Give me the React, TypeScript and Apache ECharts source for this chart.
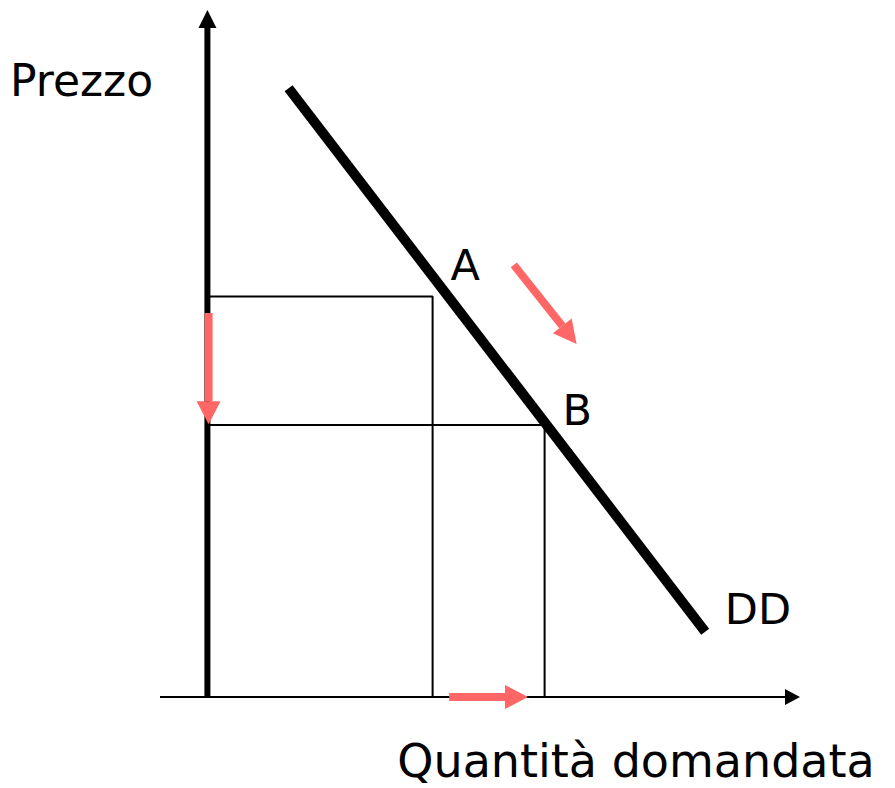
import React, { useEffect, useRef } from "react";
import * as echarts from "echarts";

// Data coordinates (abstract units: x 0..100 quantity, y 0..100 price)
const demandCurve: number[][] = [
  [13.7, 88.6],
  [84.0, 9.5],
];
const pointA = [38.0, 58.3];
const pointB = [56.9, 39.6];
const rectA: number[][] = [
  [0, pointA[1]],
  [pointA[0], pointA[1]],
  [pointA[0], 0],
];
const rectB: number[][] = [
  [0, pointB[1]],
  [pointB[0], pointB[1]],
  [pointB[0], 0],
];
// arrows: [x1, y1, x2, y2]
const xAxisArrow: number[][] = [[-8, 0, 100, 0]];
const yAxisArrow: number[][] = [[0, 0, 0, 100]];
const redArrows: number[][] = [
  [0.2, 55.9, 0.2, 39.7],
  [40.8, 0, 54.1, 0],
  [51.7, 62.9, 62.3, 51.4],
];
const pointLabels: (number | string)[][] = [
  [43.5, 62.9, "A"],
  [62.4, 41.8, "B"],
  [92.9, 12.8, "DD"],
];
const yTitle = "Prezzo";
const xTitle = "Quantità domandata";

const FONT = "DejaVu Sans";

function arrowRenderer(shaftW: number, headLen: number, headW: number, color: string) {
  return (params: any, api: any) => {
    const p1 = api.coord([api.value(0), api.value(1)]);
    const p2 = api.coord([api.value(2), api.value(3)]);
    const dx = p2[0] - p1[0];
    const dy = p2[1] - p1[1];
    const len = Math.sqrt(dx * dx + dy * dy) || 1;
    const ux = dx / len;
    const uy = dy / len;
    const nx = -uy;
    const ny = ux;
    const bx = p2[0] - ux * headLen;
    const by = p2[1] - uy * headLen;
    const hs = shaftW / 2;
    const hh = headW / 2;
    const shaft = [
      [p1[0] + nx * hs, p1[1] + ny * hs],
      [bx + nx * hs, by + ny * hs],
      [bx - nx * hs, by - ny * hs],
      [p1[0] - nx * hs, p1[1] - ny * hs],
    ];
    const head = [
      [bx + nx * hh, by + ny * hh],
      [p2[0], p2[1]],
      [bx - nx * hh, by - ny * hh],
    ];
    return {
      type: "group",
      children: [
        { type: "polygon", shape: { points: shaft }, style: { fill: color } },
        { type: "polygon", shape: { points: head }, style: { fill: color } },
      ],
    };
  };
}

export default function App() {
  const ref = useRef<HTMLDivElement>(null);
  useEffect(() => {
    if (!ref.current) return;
    const chart = echarts.init(ref.current, undefined, { renderer: "svg" });
    chart.setOption({
      animation: false,
      backgroundColor: "#ffffff",
      grid: { left: 160, right: 95, top: 10, bottom: 91 },
      xAxis: {
        type: "value",
        min: -8,
        max: 100,
        show: false,
      },
      yAxis: {
        type: "value",
        min: 0,
        max: 100,
        show: false,
      },
      graphic: [
        {
          type: "text",
          x: 10,
          y: 80,
          style: {
            text: yTitle,
            font: `44px "${FONT}"`,
            fill: "#000",
            textAlign: "left",
            textVerticalAlign: "middle",
          },
        },
        {
          type: "text",
          x: 636,
          y: 761,
          style: {
            text: xTitle,
            font: `46px "${FONT}"`,
            lineHeight: 40,
            fill: "#000",
            textAlign: "center",
            textVerticalAlign: "middle",
          },
        },
      ],
      series: [
        {
          type: "line",
          data: rectA,
          symbol: "none",
          lineStyle: { color: "#000", width: 2 },
          z: 2,
        },
        {
          type: "line",
          data: rectB,
          symbol: "none",
          lineStyle: { color: "#000", width: 2 },
          z: 2,
        },
        {
          type: "custom",
          data: xAxisArrow,
          renderItem: arrowRenderer(2, 15, 16, "#000"),
          encode: { x: [0, 2], y: [1, 3] },
          z: 3,
        },
        {
          type: "custom",
          data: yAxisArrow,
          renderItem: arrowRenderer(6, 18, 18, "#000"),
          encode: { x: [0, 2], y: [1, 3] },
          z: 3,
        },
        {
          type: "line",
          data: demandCurve,
          symbol: "none",
          lineStyle: { color: "#000", width: 10, cap: "butt" },
          z: 4,
        },
        {
          type: "custom",
          data: redArrows,
          renderItem: arrowRenderer(8, 23, 24, "#FF6666"),
          encode: { x: [0, 2], y: [1, 3] },
          z: 5,
        },
        {
          type: "scatter",
          data: pointLabels,
          symbolSize: 0,
          itemStyle: { opacity: 1 },
          label: {
            show: true,
            position: "inside",
            formatter: (p: any) => p.value[2],
            fontFamily: FONT,
            fontSize: 43,
            color: "#000",
            opacity: 1,
          },
          z: 6,
        },
      ],
    });
    return () => chart.dispose();
  }, []);
  return (
    <div
      ref={ref}
      style={{ position: "absolute", left: 0, top: 0, width: 895, height: 788, background: "#fff" }}
    />
  );
}
